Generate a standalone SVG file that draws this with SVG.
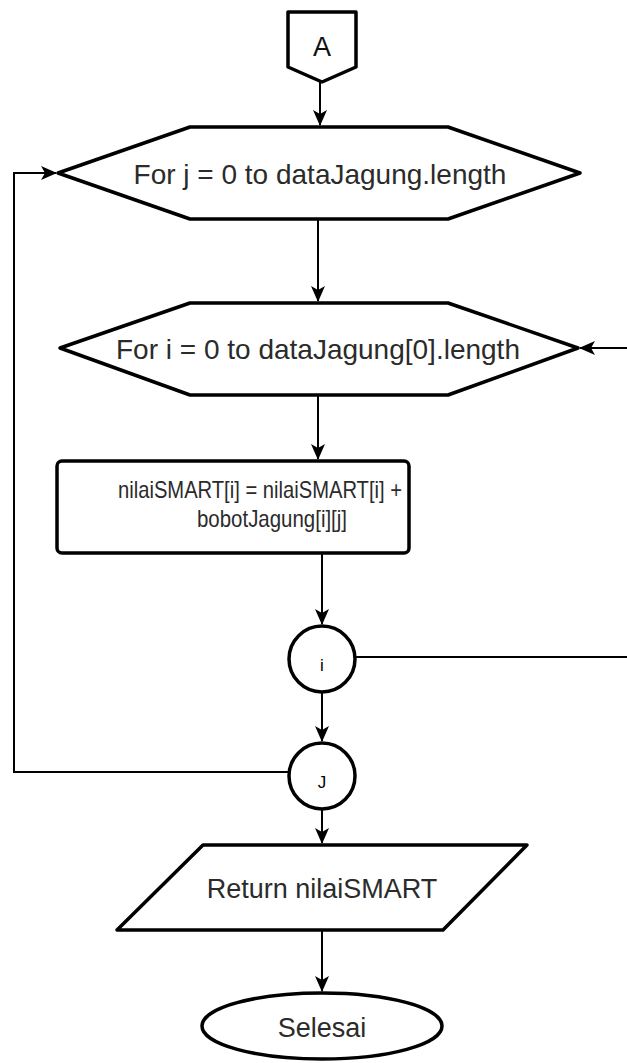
<svg xmlns="http://www.w3.org/2000/svg" width="627" height="1063" viewBox="0 0 627 1063">
  <style>
    .shape { fill: #ffffff; stroke: #000000; stroke-width: 3.5; stroke-linejoin: round; }
    .edge { fill: none; stroke: #000000; stroke-width: 2; }
    .label { font-family: "Liberation Sans", Arial, sans-serif; font-size: 27px; fill: #2b2b2b; text-anchor: middle; }
    .small { font-family: "Liberation Sans", Arial, sans-serif; font-size: 17px; fill: #000000; text-anchor: middle; }
  </style>
  <defs>
    <marker id="arrow" viewBox="0 0 16 14" refX="15" refY="7" markerWidth="16" markerHeight="14" markerUnits="userSpaceOnUse" orient="auto">
      <path d="M0,0 L16,7 L0,14 L4,7 Z" fill="#000000"/>
    </marker>
  </defs>

  <!-- connectors -->
  <g id="connectors">
    <path class="edge" d="M320,82 V125" marker-end="url(#arrow)"/>
    <path class="edge" d="M318,220 V301" marker-end="url(#arrow)"/>
    <path class="edge" d="M318,395 V459" marker-end="url(#arrow)"/>
    <path class="edge" d="M322,553 V624" marker-end="url(#arrow)"/>
    <path class="edge" d="M322,692 V741" marker-end="url(#arrow)"/>
    <path class="edge" d="M322,809 V843" marker-end="url(#arrow)"/>
    <path class="edge" d="M322,930 V991" marker-end="url(#arrow)"/>
    <!-- outer loop back to the j loop -->
    <path class="edge" d="M289,772 H14 V173 H56" marker-end="url(#arrow)"/>
    <!-- inner loop back to the i loop -->
    <path class="edge" d="M355,657 H627"/>
    <path class="edge" d="M627,348 H580" marker-end="url(#arrow)"/>
  </g>

  <g id="start-A">
    <path class="shape" d="M288,12 H356 V67 L322,82 L288,67 Z"/>
    <text class="label" x="322" y="56" style="font-size:27px;fill:#111111">A</text>
  </g>

  <g id="loop-j">
    <path class="shape" d="M58,173 L190,127 H448 L580,173 L448,219 H190 Z"/>
    <text class="label" x="320" y="184" style="font-size:28px">For j = 0 to dataJagung.length</text>
  </g>

  <g id="loop-i">
    <path class="shape" d="M60,348 L190,303 H448 L578,348 L448,395 H190 Z"/>
    <text class="label" x="318" y="359" style="font-size:28px">For i = 0 to dataJagung[0].length</text>
  </g>

  <g id="process">
    <rect class="shape" x="57" y="461" width="352" height="92" rx="5"/>
    <text class="label" x="260" y="498" style="font-size:24px" textLength="284" lengthAdjust="spacingAndGlyphs">nilaiSMART[i] = nilaiSMART[i] +</text>
    <text class="label" x="272" y="527" style="font-size:24px" textLength="150" lengthAdjust="spacingAndGlyphs">bobotJagung[i][j]</text>
  </g>

  <g id="connector-i">
    <circle class="shape" cx="322" cy="659" r="33"/>
    <text class="small" x="322" y="671">i</text>
  </g>

  <g id="connector-j">
    <circle class="shape" cx="322" cy="776" r="33"/>
    <text class="small" x="322" y="788">J</text>
  </g>

  <g id="output">
    <path class="shape" d="M203,845 H527 L443,930 H117 Z"/>
    <text class="label" x="322" y="898">Return nilaiSMART</text>
  </g>

  <g id="end">
    <ellipse class="shape" cx="322" cy="1026" rx="120" ry="33"/>
    <text class="label" x="322" y="1037">Selesai</text>
  </g>
</svg>
